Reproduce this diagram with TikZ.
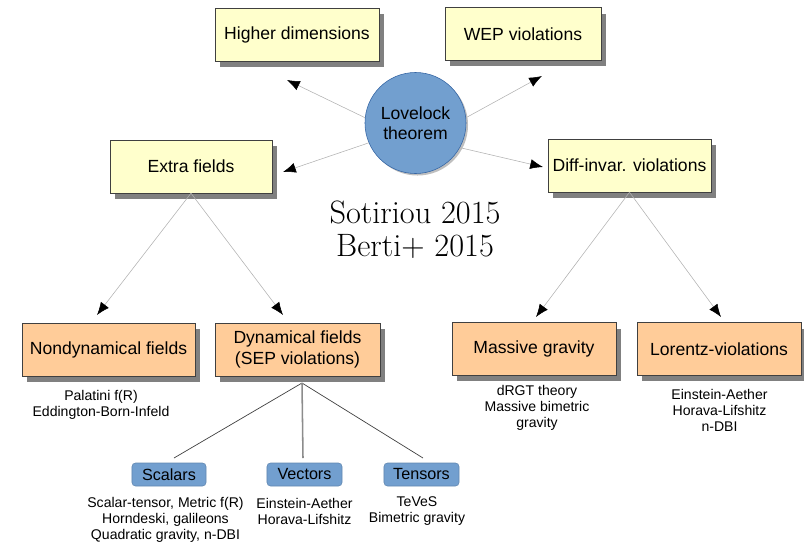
\documentclass[tikz,border=0pt]{standalone}
\usepackage{fontspec}
\newfontfamily\arialfont{Liberation Sans}
\usetikzlibrary{arrows.meta,shadows}
\definecolor{boxyellow}{HTML}{FFFFCC}
\definecolor{boxorange}{HTML}{FFCC99}
\definecolor{skyblue}{HTML}{729FCF}
\definecolor{skyline}{HTML}{3465A4}
\tikzset{
 yellowbox/.style={draw=black!75, fill=boxyellow, minimum height=1.32cm, align=center,
   font=\arialfont\fontsize{12.5}{14.5}\selectfont,
   drop shadow={shadow xshift=0.13cm, shadow yshift=-0.15cm, fill=black!50, opacity=1}},
 orangebox/.style={yellowbox, fill=boxorange},
 tagbox/.style={draw=skyblue!85!black, fill=skyblue, rounded corners=2.5pt, minimum height=0.575cm,
   font=\arialfont\fontsize{11.5}{13}\selectfont},
 note/.style={align=center, font=\arialfont\fontsize{10}{11.4}\selectfont},
 arr/.style={draw=black!30, line width=0.4pt, -{Latex[black,length=3.2mm,width=2.5mm]}},
 twig/.style={draw=black!75, line width=0.5pt}
}
\begin{document}
\begin{tikzpicture}[x=0.025cm,y=-0.025cm]
\useasboundingbox (0,0) rectangle (804,542);
% top row
\node[yellowbox, minimum width=4.1cm] (hd) at (297,34.5) {Higher dimensions};
\node[yellowbox, minimum width=3.9cm] (wep) at (523,34) {WEP violations};
\node[circle, draw=skyline, fill=skyblue, minimum size=2.525cm, align=center,
  font=\arialfont\fontsize{12.5}{14.5}\selectfont,
  drop shadow={shadow xshift=0.05cm, shadow yshift=-0.05cm, fill=black!25, opacity=1}]
  (love) at (415.5,123) {Lovelock\\theorem};
\node[yellowbox, minimum width=4.05cm] (extra) at (191,166.5) {Extra fields};
\node[yellowbox, minimum width=4.075cm] (diff) at (629.5,165.5) {Diff-invar. violations};
\node[font=\fontsize{23}{23.5}\selectfont, align=center] (refs) at (415,230) {Sotiriou 2015\\Berti+ 2015};
% second row
\node[orangebox, minimum width=4.325cm] (nondyn) at (108.5,349.5) {Nondynamical fields};
\node[orangebox, minimum width=4.125cm] (dyn) at (297.5,349.5) {Dynamical fields\\(SEP violations)};
\node[orangebox, minimum width=4.1cm] (massive) at (534,349) {Massive gravity};
\node[orangebox, minimum width=4.1cm] (lorentz) at (719,349) {Lorentz-violations};
\node[note] (palatini) at (101,404.5) {Palatini f(R)\\Eddington-Born-Infeld};
\node[note] (drgt) at (537,408) {dRGT theory\\Massive bimetric\\gravity};
\node[note] (aether) at (719.5,410) {Einstein-Aether\\Horava-Lifshitz\\n-DBI};
% third row
\node[tagbox, minimum width=1.85cm] (scalars) at (169,474.5) {Scalars};
\node[tagbox, minimum width=1.875cm] (vectors) at (304.5,474.5) {Vectors};
\node[tagbox, minimum width=1.875cm] (tensors) at (421.5,474.5) {Tensors};
\node[note] (scalnotes) at (165.5,519.5) {Scalar-tensor, Metric f(R)\\Horndeski, galileons\\Quadratic gravity, n-DBI};
\node[note] (vecnotes) at (304.5,511) {Einstein-Aether\\Horava-Lifshitz};
\node[note] (tensnotes) at (417,511) {TeVeS\\Bimetric gravity};
% free ends
\coordinate (hdtip) at (287,80);
\coordinate (weptip) at (542,76);
\coordinate (extratip) at (283,172);
\coordinate (difftip) at (543,167);
\coordinate (nondyntip) at (97,315);
\coordinate (dyntip) at (283,315);
\coordinate (massivetip) at (536,317);
\coordinate (lorentztip) at (721,317);
\coordinate (dynroot) at (302,383);
\coordinate (scalarstop) at (174,458);
\coordinate (vectorstop) at (303,458);
\coordinate (tensorstop) at (423,458);
\foreach \a/\t in {174/hdtip,6/weptip,203/extratip,331/difftip}
\draw[arr] (love.\a) -- (\t);
\draw[arr] (extra.south) -- (nondyntip);
\draw[arr] (extra.south) -- (dyntip);
\draw[arr] (diff.south) -- (massivetip);
\draw[arr] (diff.south) -- (lorentztip);
\draw[twig] (dynroot) -- (scalarstop);
\draw[twig] (dynroot) -- (tensorstop);
\draw[draw=black!45, line width=1.1pt] (dynroot) -- (vectorstop);
\end{tikzpicture}
\end{document}
